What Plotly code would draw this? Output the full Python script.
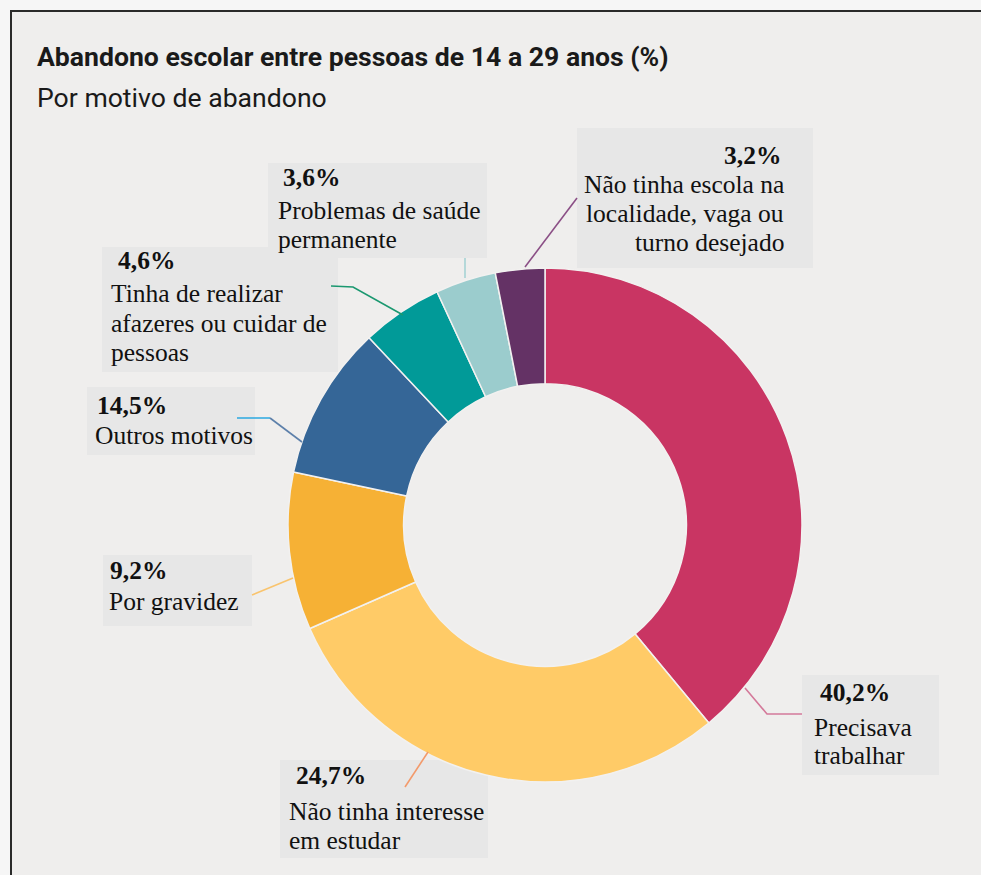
import plotly.graph_objects as go

W, H = 981, 875

# ---------------- data ----------------
categories = [
    "Precisava trabalhar",
    "Não tinha interesse em estudar",
    "Por gravidez",
    "Outros motivos",
    "Tinha de realizar afazeres ou cuidar de pessoas",
    "Problemas de saúde permanente",
    "Não tinha escola na localidade, vaga ou turno desejado",
]
label_pct = ["40,2%", "24,7%", "9,2%", "14,5%", "4,6%", "3,6%", "3,2%"]
slice_share = [39.0, 29.4, 9.9, 9.7, 5.1, 3.8, 3.1]
label_lines = [
    ["Precisava", "trabalhar"],
    ["Não tinha interesse", "em estudar"],
    ["Por gravidez"],
    ["Outros motivos"],
    ["Tinha de realizar", "afazeres ou cuidar de", "pessoas"],
    ["Problemas de saúde", "permanente"],
    ["Não tinha escola na", "localidade, vaga ou", "turno desejado"],
]
title = "Abandono escolar entre pessoas de 14 a 29 anos (%)"
subtitle = "Por motivo de abandono"

# ---------------- styles / layout ----------------
colors = ["#C93563", "#FFCB67", "#F6B135", "#356697", "#019A98", "#9BCCCD", "#643265"]
BG = "#EFEEED"
BOX = "#E7E7E7"
SERIF = "Liberation Serif, Times New Roman, serif"
SANS = "Roboto, Liberation Sans Narrow, Arial Narrow, sans-serif"
LABEL_SIZE = 25.5

cx, cy, R = 545, 525, 257

def px(x):
    return x / W

def py(y):
    return 1 - y / H

# label placement (pixels): box, pct x, body x, anchor, line y positions
placement = [
    dict(box=(802, 675, 939, 775), px=818, bx=812, anchor="left", ys=[692, 727, 755]),
    dict(box=(280, 760, 488, 858), px=294, bx=287, anchor="left", ys=[775, 811, 840]),
    dict(box=(103, 555, 252, 626), px=108, bx=107, anchor="left", ys=[570, 601]),
    dict(box=(87, 387, 255, 455), px=95, bx=93, anchor="left", ys=[405, 436]),
    dict(box=(102, 247, 338, 372), px=116, bx=109, anchor="left", ys=[260, 293, 323, 352]),
    dict(box=(268, 163, 487, 258), px=281, bx=276, anchor="left", ys=[178, 211, 240]),
    dict(box=(577, 128, 813, 268), px=783, bx=786, anchor="right", ys=[155, 185, 214, 243]),
]
connectors = [
    ([(745, 688), (767, 714), (802, 714)], "#D4799A"),
    ([(428, 752), (405, 787)], "#F39A6B"),
    ([(252, 595), (293, 578)], "#F9C46E"),
    ([(237, 418), (270, 418)], "#2BA9E0"),
    ([(270, 418), (302, 442)], "#5D80AA"),
    ([(331, 286), (353, 287), (403, 315)], "#1B9870"),
    ([(465, 258), (465, 278)], "#A6D2D4"),
    ([(525, 267), (577, 198)], "#8B4F86"),
]

fig = go.Figure()
fig.add_trace(go.Pie(
    labels=categories,
    values=slice_share,
    hole=0.55,
    sort=False,
    direction="clockwise",
    rotation=0,
    marker=dict(colors=colors, line=dict(color="#F2F1F0", width=1.5)),
    textinfo="none",
    hoverinfo="label",
    showlegend=False,
    domain=dict(x=[px(cx - R), px(cx + R)], y=[py(cy + R), py(cy - R)]),
))

shapes = []
# outer light strip and frame lines
shapes.append(dict(type="rect", xref="paper", yref="paper", x0=0, x1=1, y0=py(10), y1=1,
                   fillcolor="#F6F6F6", line=dict(width=0), layer="below"))
shapes.append(dict(type="rect", xref="paper", yref="paper", x0=0, x1=px(10), y0=0, y1=1,
                   fillcolor="#F6F6F6", line=dict(width=0), layer="below"))
shapes.append(dict(type="line", xref="paper", yref="paper", x0=px(10), x1=1, y0=py(11), y1=py(11),
                   line=dict(color="#2A2A2A", width=2)))
shapes.append(dict(type="line", xref="paper", yref="paper", x0=px(11), x1=px(11), y0=0, y1=py(11),
                   line=dict(color="#2A2A2A", width=2)))

annotations = []
for i, p in enumerate(placement):
    x0, y0, x1, y1 = p["box"]
    shapes.append(dict(type="rect", xref="paper", yref="paper", x0=px(x0), x1=px(x1),
                       y0=py(y1), y1=py(y0), fillcolor=BOX, line=dict(width=0), layer="below"))
    annotations.append(dict(text="<b>%s</b>" % label_pct[i], x=px(p["px"]), y=py(p["ys"][0]),
                            xref="paper", yref="paper", xanchor=p["anchor"], yanchor="middle",
                            showarrow=False, font=dict(family=SERIF, size=LABEL_SIZE, color="#111111")))
    for j, line in enumerate(label_lines[i]):
        annotations.append(dict(text=line, x=px(p["bx"]), y=py(p["ys"][j + 1]),
                                xref="paper", yref="paper", xanchor=p["anchor"], yanchor="middle",
                                showarrow=False, font=dict(family=SERIF, size=LABEL_SIZE, color="#111111")))

for pts, col in connectors:
    path = "M " + " L ".join("%f,%f" % (px(x), py(y)) for x, y in pts)
    shapes.append(dict(type="path", xref="paper", yref="paper", path=path,
                       line=dict(color=col, width=1.6)))

annotations.append(dict(text="<b>%s</b>" % title, x=px(35), y=py(56), xref="paper", yref="paper",
                        xanchor="left", yanchor="middle", showarrow=False,
                        font=dict(family=SANS, size=26.6, color="#1A1A1A")))
annotations.append(dict(text=subtitle, x=px(35), y=py(98), xref="paper", yref="paper",
                        xanchor="left", yanchor="middle", showarrow=False,
                        font=dict(family=SANS, size=26.6, color="#1A1A1A")))

fig.update_layout(
    width=W, height=H, autosize=False,
    margin=dict(l=0, r=0, t=0, b=0),
    paper_bgcolor=BG, plot_bgcolor=BG,
    shapes=shapes, annotations=annotations,
)

fig.write_html("out.html", config={"displayModeBar": False},
               post_script="document.body.style.margin='0px';document.body.style.overflow='hidden';")
